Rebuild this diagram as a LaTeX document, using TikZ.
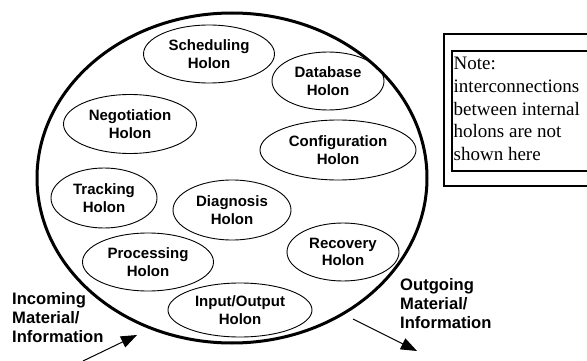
\documentclass[tikz,border=0pt]{standalone}
\usepackage{fontspec}
\setmainfont{Liberation Serif}
\newfontfamily\holonfont{Liberation Sans}
\usetikzlibrary{shapes.geometric,arrows.meta}
\tikzset{
  holon/.style={draw, line width=0.9pt, ellipse, inner sep=0pt, align=center,
    font=\holonfont\bfseries\fontsize{15}{17.7}\selectfont},
  system/.style={draw, line width=3pt, ellipse, inner sep=0pt},
  flowlabel/.style={inner sep=0pt, align=left, anchor=west,
    font=\holonfont\bfseries\fontsize{16.6}{19}\selectfont},
  flowarrow/.style={line width=1pt, -{Triangle[length=16pt,width=12pt]}},
  notetext/.style={inner sep=0pt, align=left, anchor=north west,
    font=\fontsize{19}{22.7}\selectfont}
}
\begin{document}
\begin{tikzpicture}[x=1pt,y=-1pt]
\useasboundingbox (0,0) rectangle (587,361);
\begin{scope}
\clip (0,0) rectangle (587,361);
% system boundary
\node[system, minimum width=390pt, minimum height=330pt] (sys) at (232,178) {};
% holons
\node[holon, minimum width=131pt, minimum height=58pt] (sched) at (209,54) {Scheduling\\Holon};
\node[holon, minimum width=112pt, minimum height=58pt] (db) at (328,81) {Database\\Holon};
\node[holon, minimum width=133pt, minimum height=59pt] (neg) at (130,124) {Negotiation\\Holon};
\node[holon, minimum width=156pt, minimum height=60pt] (conf) at (338,150) {Configuration\\Holon};
\node[holon, minimum width=106pt, minimum height=60pt] (track) at (104,198) {Tracking\\Holon};
\node[holon, minimum width=118pt, minimum height=60pt] (diag) at (232,210) {Diagnosis\\Holon};
\node[holon, minimum width=131pt, minimum height=58pt] (proc) at (148,262) {Processing\\Holon};
\node[holon, minimum width=112pt, minimum height=58pt] (rec) at (343,252) {Recovery\\Holon};
\node[holon, minimum width=144pt, minimum height=54pt] (io) at (240,310) {Input/Output\\Holon};
% note boxes
\draw[line width=2pt] (444,34) rectangle (600,186);
\draw[line width=1.4pt] (452,51) rectangle (600,171);
\node[notetext] (note) at (453.5,57) {Note:\\interconnections\\between internal\\holons are not\\shown here};
% flow labels
\node[flowlabel] (inlab) at (12,318) {Incoming\\Material/\\Information};
\node[flowlabel] (outlab) at (400,304) {Outgoing\\Material/\\Information};
% arrows
\coordinate (inS) at (83,361);
\coordinate (inT) at (137,335);
\coordinate (outS) at (353,319);
\coordinate (outT) at (417,351);
\draw[flowarrow] (inS) -- (inT);
\draw[flowarrow] (outS) -- (outT);
\end{scope}
\end{tikzpicture}
\end{document}
